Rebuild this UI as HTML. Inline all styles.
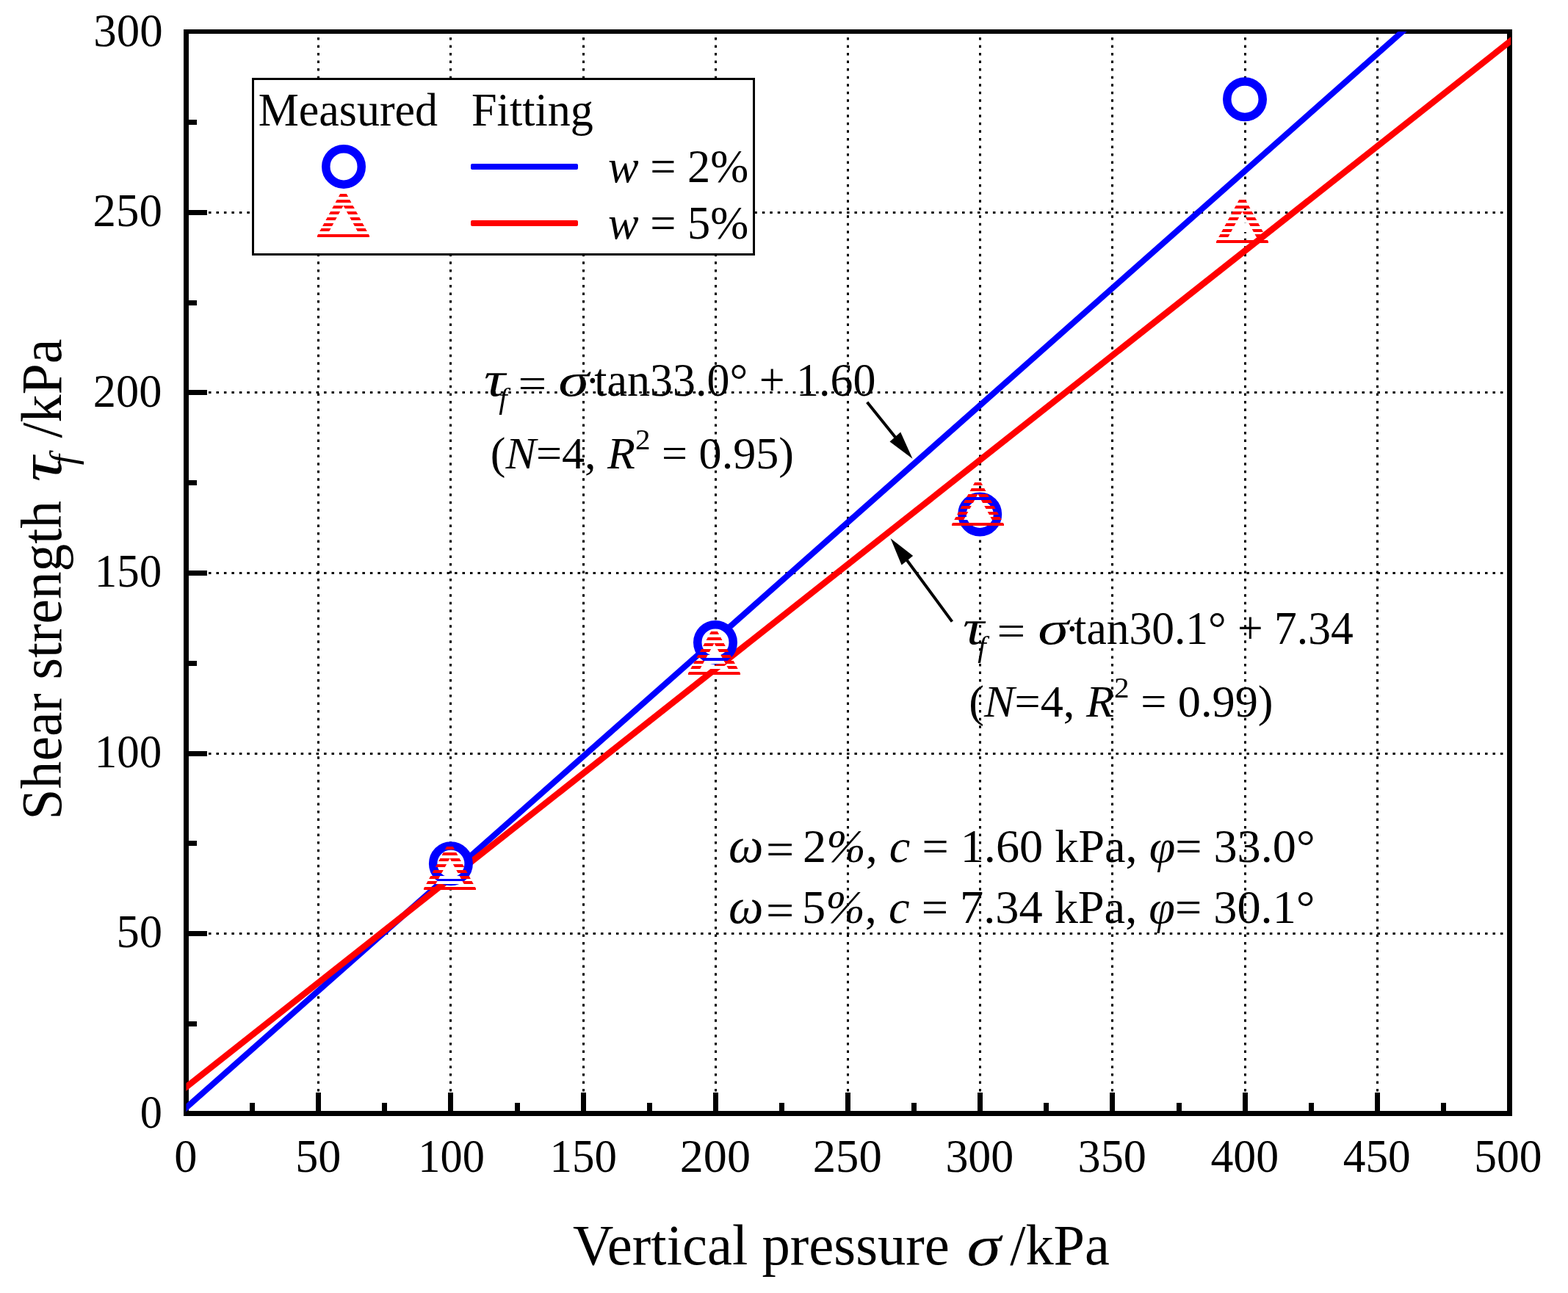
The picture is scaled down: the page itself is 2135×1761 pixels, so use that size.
<!DOCTYPE html>
<html><head><meta charset="utf-8"><title>Shear strength vs vertical pressure</title>
<style>html,body{margin:0;padding:0;background:#fff;}svg{display:block;}text{font-family:'Liberation Serif', 'Times New Roman', serif;fill:#000;}</style></head><body>
<svg width="2135" height="1761" viewBox="0 0 2135 1761">
<defs>
<clipPath id="plotclip"><rect x="253.5" y="43.0" width="1803.5" height="1473.5"/></clipPath>
</defs>
<rect width="2135" height="1761" fill="#fff"/>
<path d="M433.50 51V1488 M613.50 51V1488 M794.50 51V1488 M974.50 51V1488 M1154.50 51V1488 M1334.50 51V1488 M1514.50 51V1488 M1695.50 51V1488 M1875.50 51V1488" stroke="#000" stroke-width="3" stroke-dasharray="3.5 7.03" fill="none"/>
<path d="M284 1271.50H2052 M284 1026.50H2052 M284 780.50H2052 M284 534.50H2052 M284 289.50H2052" stroke="#000" stroke-width="3" stroke-dasharray="3.5 6.97" fill="none"/>
<g fill="#000">
<rect x="250" y="40" width="7" height="1480"/>
<rect x="2052" y="40" width="7" height="1480"/>
<rect x="250" y="40" width="1809" height="6"/>
<rect x="250" y="1513" width="1809" height="7"/>
<rect x="250.00" y="1488" width="7" height="28"/>
<rect x="340.00" y="1502" width="7" height="14"/>
<rect x="430.00" y="1488" width="7" height="28"/>
<rect x="520.00" y="1502" width="7" height="14"/>
<rect x="610.00" y="1488" width="7" height="28"/>
<rect x="701.00" y="1502" width="7" height="14"/>
<rect x="791.00" y="1488" width="7" height="28"/>
<rect x="881.00" y="1502" width="7" height="14"/>
<rect x="971.00" y="1488" width="7" height="28"/>
<rect x="1061.00" y="1502" width="7" height="14"/>
<rect x="1151.00" y="1488" width="7" height="28"/>
<rect x="1241.00" y="1502" width="7" height="14"/>
<rect x="1331.00" y="1488" width="7" height="28"/>
<rect x="1421.00" y="1502" width="7" height="14"/>
<rect x="1511.00" y="1488" width="7" height="28"/>
<rect x="1602.00" y="1502" width="7" height="14"/>
<rect x="1692.00" y="1488" width="7" height="28"/>
<rect x="1782.00" y="1502" width="7" height="14"/>
<rect x="1872.00" y="1488" width="7" height="28"/>
<rect x="1962.00" y="1502" width="7" height="14"/>
<rect x="2052.00" y="1488" width="7" height="28"/>
<rect x="253" y="1391.00" width="15" height="7"/>
<rect x="253" y="1268.00" width="29" height="7"/>
<rect x="253" y="1145.00" width="15" height="7"/>
<rect x="253" y="1023.00" width="29" height="7"/>
<rect x="253" y="900.00" width="15" height="7"/>
<rect x="253" y="777.00" width="29" height="7"/>
<rect x="253" y="654.00" width="15" height="7"/>
<rect x="253" y="531.00" width="29" height="7"/>
<rect x="253" y="409.00" width="15" height="7"/>
<rect x="253" y="286.00" width="29" height="7"/>
<rect x="253" y="163.00" width="15" height="7"/>
</g>
<g clip-path="url(#plotclip)">
<polygon points="253.00,1503.68 2057.00,-92.92 2057.00,-82.12 253.00,1514.48" fill="#0000ff"/>
<polygon points="253.00,1475.44 2057.00,50.27 2057.00,61.07 253.00,1486.24" fill="#ff0000"/>
</g>
<circle cx="613.9" cy="1176.3" r="24.25" fill="#fff" stroke="#0000ff" stroke-width="11.5"/>
<circle cx="974.0" cy="874.9" r="24.25" fill="#fff" stroke="#0000ff" stroke-width="11.5"/>
<circle cx="1334.2" cy="700.5" r="24.25" fill="#fff" stroke="#0000ff" stroke-width="11.5"/>
<circle cx="1695.0" cy="135.2" r="24.25" fill="#fff" stroke="#0000ff" stroke-width="11.5"/>
<mask id="m0" maskUnits="userSpaceOnUse" x="562.5" y="1135" width="100" height="90"><rect x="562.5" y="1153" width="100" height="4" fill="#fff"/><rect x="562.5" y="1161" width="100" height="4" fill="#fff"/><rect x="562.5" y="1169" width="100" height="4" fill="#fff"/><rect x="562.5" y="1177" width="100" height="4" fill="#fff"/><rect x="562.5" y="1185" width="100" height="4" fill="#fff"/><rect x="562.5" y="1193" width="100" height="4" fill="#fff"/><rect x="562.5" y="1200" width="100" height="4" fill="#fff"/><rect x="562.5" y="1208" width="100" height="4" fill="#fff"/></mask><g mask="url(#m0)"><polygon points="612.50,1145 577.00,1210 577.00,1212 648.00,1212 648.00,1210" fill="#ff0000"/><polygon points="612.50,1169 593.00,1204.5 632.00,1204.5" fill="#fff"/></g>
<mask id="m1" maskUnits="userSpaceOnUse" x="922.5" y="842" width="100" height="90"><rect x="922.5" y="860" width="100" height="4" fill="#fff"/><rect x="922.5" y="868" width="100" height="4" fill="#fff"/><rect x="922.5" y="876" width="100" height="4" fill="#fff"/><rect x="922.5" y="884" width="100" height="4" fill="#fff"/><rect x="922.5" y="892" width="100" height="4" fill="#fff"/><rect x="922.5" y="900" width="100" height="4" fill="#fff"/><rect x="922.5" y="907" width="100" height="4" fill="#fff"/><rect x="922.5" y="915" width="100" height="4" fill="#fff"/></mask><g mask="url(#m1)"><polygon points="972.50,852 937.00,917 937.00,919 1008.00,919 1008.00,917" fill="#ff0000"/><polygon points="972.50,876 953.00,911.5 992.00,911.5" fill="#fff"/></g>
<mask id="m2" maskUnits="userSpaceOnUse" x="1281.5" y="639" width="100" height="90"><rect x="1281.5" y="657" width="100" height="4" fill="#fff"/><rect x="1281.5" y="665" width="100" height="4" fill="#fff"/><rect x="1281.5" y="673" width="100" height="4" fill="#fff"/><rect x="1281.5" y="681" width="100" height="4" fill="#fff"/><rect x="1281.5" y="689" width="100" height="4" fill="#fff"/><rect x="1281.5" y="697" width="100" height="4" fill="#fff"/><rect x="1281.5" y="704" width="100" height="4" fill="#fff"/><rect x="1281.5" y="712" width="100" height="4" fill="#fff"/></mask><g mask="url(#m2)"><polygon points="1331.50,649 1296.00,714 1296.00,716 1367.00,716 1367.00,714" fill="#ff0000"/><polygon points="1331.50,673 1312.00,708.5 1351.00,708.5" fill="#fff"/></g>
<mask id="m3" maskUnits="userSpaceOnUse" x="1641.5" y="254" width="100" height="90"><rect x="1641.5" y="272" width="100" height="4" fill="#fff"/><rect x="1641.5" y="280" width="100" height="4" fill="#fff"/><rect x="1641.5" y="288" width="100" height="4" fill="#fff"/><rect x="1641.5" y="296" width="100" height="4" fill="#fff"/><rect x="1641.5" y="304" width="100" height="4" fill="#fff"/><rect x="1641.5" y="312" width="100" height="4" fill="#fff"/><rect x="1641.5" y="319" width="100" height="4" fill="#fff"/><rect x="1641.5" y="327" width="100" height="4" fill="#fff"/></mask><g mask="url(#m3)"><polygon points="1691.50,264 1656.00,329 1656.00,331 1727.00,331 1727.00,329" fill="#ff0000"/><polygon points="1691.50,288 1672.00,323.5 1711.00,323.5" fill="#fff"/></g>
<rect x="344.5" y="107.5" width="682" height="239" fill="#fff" stroke="#000" stroke-width="3"/>
<circle cx="468.0" cy="226.9" r="24.25" fill="#fff" stroke="#0000ff" stroke-width="11.5"/>
<mask id="m4" maskUnits="userSpaceOnUse" x="417.5" y="246" width="100" height="90"><rect x="417.5" y="264" width="100" height="4" fill="#fff"/><rect x="417.5" y="272" width="100" height="4" fill="#fff"/><rect x="417.5" y="280" width="100" height="4" fill="#fff"/><rect x="417.5" y="288" width="100" height="4" fill="#fff"/><rect x="417.5" y="296" width="100" height="4" fill="#fff"/><rect x="417.5" y="304" width="100" height="4" fill="#fff"/><rect x="417.5" y="311" width="100" height="4" fill="#fff"/><rect x="417.5" y="319" width="100" height="4" fill="#fff"/></mask><g mask="url(#m4)"><polygon points="467.50,256 432.00,321 432.00,323 503.00,323 503.00,321" fill="#ff0000"/><polygon points="467.50,280 448.00,315.5 487.00,315.5" fill="#fff"/></g>
<rect x="641" y="223" width="146" height="8" rx="2" fill="#0000ff"/>
<rect x="641" y="300" width="146" height="8" rx="2" fill="#ff0000"/>
<text transform="translate(351.63 171.00) scale(0.9841 1)" font-size="63">Measured</text>
<text transform="translate(642.03 171.00) scale(0.9873 1)" font-size="63">Fitting</text>
<text transform="translate(828.02 248.00) scale(0.9905 1)" font-size="63"><tspan font-style="italic">w</tspan> = 2%</text>
<text transform="translate(828.02 325.00) scale(0.9905 1)" font-size="63"><tspan font-style="italic">w</tspan> = 5%</text>
<text transform="translate(658.92 539.00) scale(1.1875 1)" font-size="68"><tspan font-style="italic">τ</tspan></text>
<text transform="translate(679.15 556.00) scale(1.0000 1)" font-size="41"><tspan font-style="italic">f</tspan></text>
<text transform="translate(705.48 542.50) scale(1.1069 1)" font-size="62">=</text>
<text transform="translate(760.15 539.00) scale(1.3226 1)" font-size="64"><tspan font-style="italic">σ</tspan></text>
<text transform="translate(797.30 539.00) scale(0.9286 1)" font-size="62">·</text>
<text transform="translate(809.32 539.00) scale(0.9832 1)" font-size="63">tan33.0° + 1.60</text>
<text transform="translate(1310.92 876.70) scale(1.1875 1)" font-size="68"><tspan font-style="italic">τ</tspan></text>
<text transform="translate(1331.15 893.70) scale(1.0000 1)" font-size="41"><tspan font-style="italic">f</tspan></text>
<text transform="translate(1357.48 880.20) scale(1.1069 1)" font-size="62">=</text>
<text transform="translate(1413.15 876.70) scale(1.3226 1)" font-size="64"><tspan font-style="italic">σ</tspan></text>
<text transform="translate(1450.30 876.70) scale(0.9286 1)" font-size="62">·</text>
<text transform="translate(1462.32 876.70) scale(0.9763 1)" font-size="63">tan30.1° + 7.34</text>
<text transform="translate(667.79 638.00) scale(1.0020 1)" font-size="62">(<tspan font-style="italic">N</tspan>=4, <tspan font-style="italic">R</tspan><tspan font-size="41" dy="-26">2</tspan><tspan dy="26"> = 0.95)</tspan></text>
<text transform="translate(1319.29 975.80) scale(1.0047 1)" font-size="62">(<tspan font-style="italic">N</tspan>=4, <tspan font-style="italic">R</tspan><tspan font-size="41" dy="-26">2</tspan><tspan dy="26"> = 0.99)</tspan></text>
<text transform="translate(992.02 1173.80) scale(0.9884 1)" font-size="68"><tspan font-style="italic">ω</tspan></text>
<text transform="translate(1042.92 1178.10) scale(1.0600 1)" font-size="64">=</text>
<text transform="translate(1093.09 1173.80) scale(1.0039 1)" font-size="64">2<tspan font-style="italic">%</tspan>, <tspan font-style="italic">c</tspan> = 1.60 kPa, <tspan font-style="italic">φ</tspan>= 33.0°</text>
<text transform="translate(992.02 1257.00) scale(0.9884 1)" font-size="68"><tspan font-style="italic">ω</tspan></text>
<text transform="translate(1042.92 1261.30) scale(1.0600 1)" font-size="64">=</text>
<text transform="translate(1092.08 1257.00) scale(1.0054 1)" font-size="64">5<tspan font-style="italic">%</tspan>, <tspan font-style="italic">c</tspan> = 7.34 kPa, <tspan font-style="italic">φ</tspan>= 30.1°</text>
<text transform="translate(779.92 1722.00) scale(0.9830 1)" font-size="78">Vertical pressure</text>
<text transform="translate(1316.59 1723.00) scale(1.2026 1)" font-size="78"><tspan font-style="italic">σ</tspan></text>
<text transform="translate(1375.20 1722.00) scale(0.9783 1)" font-size="78">/kPa</text>
<text transform="translate(83.00 1116.45) rotate(-90) scale(0.9695 1)" font-size="78">Shear strength</text>
<text transform="translate(83.00 656.35) rotate(-90) scale(1.1733 1)" font-size="82"><tspan font-style="italic">τ</tspan></text>
<text transform="translate(102.60 633.25) rotate(-90) scale(1.0000 1)" font-size="51"><tspan font-style="italic">f</tspan></text>
<text transform="translate(83.00 596.60) rotate(-90) scale(0.9739 1)" font-size="78">/kPa</text>
<text transform="translate(237.25 1596.00) scale(0.9750 1)" font-size="64">0</text>
<text transform="translate(402.32 1596.00) scale(0.9707 1)" font-size="64">50</text>
<text transform="translate(569.34 1596.00) scale(0.9432 1)" font-size="64">100</text>
<text transform="translate(748.49 1596.00) scale(0.9523 1)" font-size="64">150</text>
<text transform="translate(925.79 1596.00) scale(1.0022 1)" font-size="64">200</text>
<text transform="translate(1106.76 1596.00) scale(0.9791 1)" font-size="64">250</text>
<text transform="translate(1287.40 1596.00) scale(0.9681 1)" font-size="64">300</text>
<text transform="translate(1467.58 1596.00) scale(0.9725 1)" font-size="64">350</text>
<text transform="translate(1648.43 1596.00) scale(0.9656 1)" font-size="64">400</text>
<text transform="translate(1828.74 1596.00) scale(0.9581 1)" font-size="64">450</text>
<text transform="translate(2007.36 1596.00) scale(0.9611 1)" font-size="64">500</text>
<text transform="translate(127.25 62.50) scale(0.9835 1)" font-size="64">300</text>
<text transform="translate(126.55 308.08) scale(0.9835 1)" font-size="64">250</text>
<text transform="translate(126.78 553.67) scale(0.9747 1)" font-size="64">200</text>
<text transform="translate(128.78 799.25) scale(0.9534 1)" font-size="64">150</text>
<text transform="translate(128.78 1044.83) scale(0.9534 1)" font-size="64">100</text>
<text transform="translate(158.38 1290.42) scale(0.9793 1)" font-size="64">50</text>
<text transform="translate(190.81 1536.00) scale(0.9429 1)" font-size="64">0</text>
<line x1="1180.7" y1="547.8" x2="1227.1" y2="605.5" stroke="#000" stroke-width="4"/><polygon points="1242.5,624.8 1226.2,588.5 1211.5,601.6" fill="#000"/>
<line x1="1296.4" y1="846.6" x2="1227.4" y2="752.8" stroke="#000" stroke-width="4"/><polygon points="1212.6,733.3 1243.2,757.0 1227.6,769.6" fill="#000"/>
</svg></body></html>
